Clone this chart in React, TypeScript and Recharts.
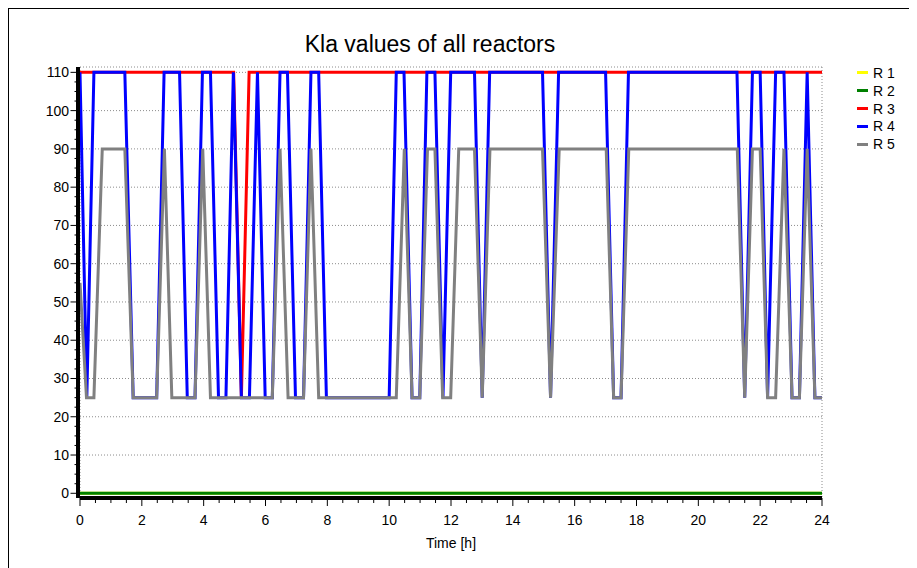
import React from "react";
import { LineChart, Line, XAxis, YAxis, CartesianGrid, Legend } from "recharts";

// tick labels
const majorX = [0, 2, 4, 6, 8, 10, 12, 14, 16, 18, 20, 22, 24];
const majorY = [0, 10, 20, 30, 40, 50, 60, 70, 80, 90, 100, 110];

// [time h, kla] pairs
const r1: [number, number][] = [[0, 0], [24, 0]];
const r2: [number, number][] = [[0, 0], [24, 0]];
const r3: [number, number][] = [[0, 110], [4.97, 110], [5.22, 25], [5.47, 110], [24, 110]];
const r4: [number, number][] = [
  [0, 110], [0.22, 25], [0.45, 110], [1.45, 110], [1.72, 25], [2.48, 25], [2.72, 110],
  [3.22, 110], [3.47, 25], [3.72, 25], [3.96, 110], [4.22, 110], [4.48, 25], [4.72, 25],
  [4.96, 110], [5.22, 25], [5.48, 25], [5.74, 110], [5.99, 25], [6.22, 25], [6.47, 110],
  [6.71, 110], [6.97, 25], [7.23, 25], [7.47, 110], [7.72, 110], [7.97, 25], [10.0, 25],
  [10.23, 110], [10.48, 110], [10.74, 25], [10.99, 25], [11.22, 110], [11.48, 110],
  [11.74, 25], [11.99, 110], [12.76, 110], [13.01, 25], [13.25, 110], [14.96, 110],
  [15.22, 25], [15.48, 110], [17.0, 110], [17.26, 25], [17.5, 25], [17.74, 110],
  [21.25, 110], [21.5, 25], [21.75, 110], [22.0, 110], [22.24, 25], [22.5, 110],
  [22.77, 110], [23.03, 25], [23.27, 25], [23.52, 110], [23.77, 25], [24, 25],
];
const r5: [number, number][] = [
  [0, 55], [0.21, 25], [0.45, 25], [0.72, 90], [1.45, 90], [1.72, 25], [2.48, 25],
  [2.73, 90], [2.97, 25], [3.72, 25], [3.97, 90], [4.22, 25], [6.22, 25], [6.47, 90],
  [6.73, 25], [7.23, 25], [7.47, 90], [7.72, 25], [10.23, 25], [10.49, 90], [10.74, 25],
  [10.99, 25], [11.24, 90], [11.48, 90], [11.73, 25], [11.99, 25], [12.25, 90],
  [12.76, 90], [13.01, 25], [13.26, 90], [14.96, 90], [15.22, 25], [15.5, 90],
  [17.02, 90], [17.26, 25], [17.5, 25], [17.75, 90], [21.26, 90], [21.5, 25],
  [21.75, 90], [22.0, 90], [22.24, 25], [22.5, 25], [22.77, 90], [23.03, 25],
  [23.27, 25], [23.52, 90], [23.77, 25], [24, 25],
];

const series = [
  { name: "R 1", color: "#ffff00", points: r1 },
  { name: "R 2", color: "#008000", points: r2 },
  { name: "R 3", color: "#ff0000", points: r3 },
  { name: "R 4", color: "#0000ff", points: r4 },
  { name: "R 5", color: "#808080", points: r5 },
];

const font = "'Liberation Sans', Arial, sans-serif";
const yDomain: [number, number] = [-1.23, 111.4];

// minor ticks between the majors
const allX = majorX.flatMap((v, i) => (i < majorX.length - 1 ? [v, v + 0.5, v + 1, v + 1.5] : [v]));
const allY = majorY.flatMap((v, i) => (i < majorY.length - 1 ? [v, v + 2.5, v + 5, v + 7.5] : [v]));

const XTick = (props: any) => {
  const { x, y, payload } = props;
  const major = majorX.includes(payload.value);
  return (
    <g>
      <line x1={x} x2={x} y1={y} y2={y + (major ? 8 : 5)} stroke="#000" strokeWidth={1} />
      {major && (
        <text x={x} y={y + 27} textAnchor="middle" fontSize={14} fontFamily={font} fill="#000">
          {payload.value}
        </text>
      )}
    </g>
  );
};

const YTick = (props: any) => {
  const { x, y, payload } = props;
  const major = majorY.includes(payload.value);
  return (
    <g>
      <line x1={x - (major ? 9.5 : 5.5)} x2={x} y1={y} y2={y} stroke="#000" strokeWidth={1} />
      {major && (
        <text x={x - 11} y={y + 5} textAnchor="end" fontSize={14} fontFamily={font} fill="#000">
          {payload.value}
        </text>
      )}
    </g>
  );
};

const renderLegend = () => (
  <div style={{ fontFamily: font, fontSize: 14, color: "#000" }}>
    {series.map((s) => (
      <div key={s.name} style={{ display: "flex", alignItems: "center", height: 17.8 }}>
        <span style={{ display: "inline-block", width: 11, height: 3, background: s.color, marginRight: 5 }} />
        <span>{s.name}</span>
      </div>
    ))}
  </div>
);

export default function App() {
  return (
    <div style={{ position: "relative", width: 909, height: 560 }}>
      <div
        style={{
          position: "absolute",
          left: 0,
          top: 0,
          width: 909,
          height: 560,
          borderLeft: "1px solid #000",
          borderTop: "1px solid #000",
        }}
      />
      <div
        style={{
          position: "absolute",
          left: 0,
          width: 844,
          top: 25,
          textAlign: "center",
          fontFamily: font,
          fontSize: 23,
          lineHeight: "23px",
          zIndex: 2,
        }}
      >
        Kla values of all reactors
      </div>
      <LineChart width={909} height={560} margin={{ top: 59, right: 95, bottom: 20, left: 12 }}>
        <XAxis xAxisId="grid" type="number" domain={[0, 24]} ticks={majorX} hide />
        <YAxis yAxisId="grid" type="number" domain={yDomain} ticks={majorY} hide allowDataOverflow />
        <CartesianGrid xAxisId="grid" yAxisId="grid" stroke="#8c8c8c" strokeDasharray="1 2" />
        <XAxis
          dataKey="t"
          type="number"
          domain={[0, 24]}
          ticks={allX}
          interval={0}
          height={50}
          tickSize={0}
          tickMargin={0}
          tick={<XTick />}
          axisLine={{ stroke: "#000", strokeWidth: 4 }}
          label={{ value: "Time [h]", position: "insideBottom", offset: 0, fontSize: 14, fontFamily: font, fill: "#000" }}
        />
        <YAxis
          type="number"
          domain={yDomain}
          allowDataOverflow
          ticks={allY}
          interval={0}
          width={60}
          tickSize={0}
          tickMargin={0}
          tick={<YTick />}
          axisLine={{ stroke: "#000", strokeWidth: 4, transform: "translate(-2,0)" }}
        />
        <XAxis
          xAxisId="top"
          orientation="top"
          type="number"
          domain={[0, 24]}
          height={0}
          tick={false}
          tickLine={false}
          axisLine={{ stroke: "#000", strokeWidth: 2 }}
        />
        <YAxis
          yAxisId="right"
          orientation="right"
          type="number"
          domain={yDomain}
          width={0}
          tick={false}
          tickLine={false}
          axisLine={{ stroke: "#333", strokeWidth: 2 }}
        />
        <Legend
          layout="horizontal"
          align="center"
          verticalAlign="middle"
          content={renderLegend}
          wrapperStyle={{ left: 849, top: 56.1, width: 60 }}
        />
        {series.map((s) => (
          <Line
            key={s.name}
            name={s.name}
            data={s.points.map(([t, v]) => ({ t, v }))}
            dataKey="v"
            type="linear"
            stroke={s.color}
            strokeWidth={3}
            dot={false}
            activeDot={false}
            isAnimationActive={false}
          />
        ))}
      </LineChart>
    </div>
  );
}
